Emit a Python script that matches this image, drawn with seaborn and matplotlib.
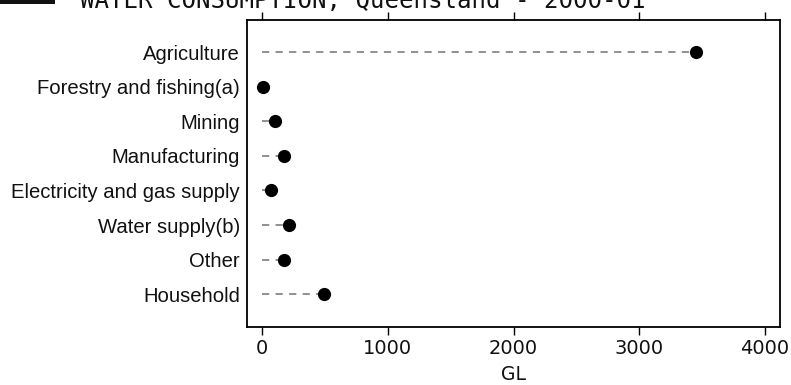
import matplotlib
matplotlib.use("Agg")
import matplotlib.pyplot as plt
import seaborn as sns
import pandas as pd
from matplotlib.patches import Rectangle

categories = ["Agriculture", "Forestry and fishing(a)", "Mining", "Manufacturing",
              "Electricity and gas supply", "Water supply(b)", "Other", "Household"]
values = [3455, 5, 103, 175, 72, 215, 175, 493]
x_ticks = [0, 1000, 2000, 3000, 4000]
title = "WATER CONSUMPTION, Queensland - 2000-01"
x_label = "GL"

df = pd.DataFrame({"sector": categories, "gl": values})

sns.set_theme(style="white")
plt.rcParams['font.family'] = ['Liberation Sans', 'DejaVu Sans']

fig = plt.figure(figsize=(7.91, 3.85), dpi=100)
ax = fig.add_axes([247/791, 1-327/385, (780-247)/791, (327-20)/385])

ax.hlines(y=range(len(categories)), xmin=0, xmax=df["gl"], colors="#888888",
          linestyles=(0, (4, 3.5)), linewidth=1.3, zorder=1)
sns.stripplot(data=df, x="gl", y="sector", order=categories, jitter=False,
              size=9.5, color="black", linewidth=0, ax=ax, zorder=3)

ax.set_xlim(-120, 4120)
ax.set_ylim(7.95, -0.93)
ax.set_xticks(x_ticks)
ax.set_xlabel(x_label, fontsize=13.5, family="DejaVu Sans", labelpad=5)
ax.set_ylabel("")
for sp in ax.spines.values():
    sp.set_visible(True)
    sp.set_color("black")
    sp.set_linewidth(1.3)
ax.tick_params(axis="x", which="both", bottom=True, top=True, direction="out",
               length=6, width=1, color="black", labelsize=14, pad=3)
for lbl in ax.get_xticklabels():
    lbl.set_family("DejaVu Sans")
    lbl.set_color("#111111")
ax.tick_params(axis="y", left=False, length=0, labelsize=14.6, pad=5)
for lbl in ax.get_yticklabels():
    lbl.set_color("#111111")
ax.xaxis.label.set_color("#111111")

fig.text(80/791, 1-8/385, title, family="DejaVu Sans Mono", fontsize=17.4,
         va="baseline", ha="left", color="#111111")
fig.patches.append(Rectangle((0, 1-4/385), 55/791, 6/385, transform=fig.transFigure,
                             facecolor="#111111", edgecolor="none"))

fig.savefig("out.png", dpi=100)
